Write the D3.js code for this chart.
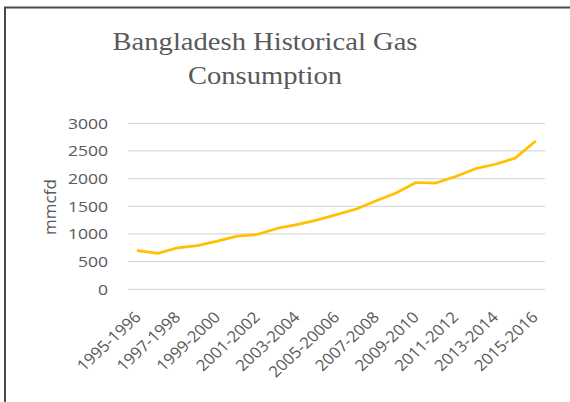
<!DOCTYPE html>
<html>
<head>
<meta charset="utf-8">
<script src="https://cdn.jsdelivr.net/npm/d3@7"></script>
<style>
    body { margin: 0; background: #fff; }
    svg { display: block; }
</style>
</head>
<body>
<svg id="chart" width="570" height="402"></svg>
<script>
// data
let categories = ["1995-1996", "1996-1997", "1997-1998", "1998-1999", "1999-2000", "2000-2001",
    "2001-2002", "2002-2003", "2003-2004", "2004-2005", "2005-20006", "2006-2007", "2007-2008",
    "2008-2009", "2009-2010", "2010-2011", "2011-2012", "2012-2013", "2013-2014", "2014-2015",
    "2015-2016"];
let consumption = [700, 650, 750, 790, 870, 960, 990, 1100, 1170, 1250, 1350, 1450, 1600,
    1740, 1930, 1920, 2040, 2180, 2260, 2370, 2670];
let yTicks = [0, 500, 1000, 1500, 2000, 2500, 3000];
let titleLines = ["Bangladesh Historical Gas", "Consumption"];
let yLabel = "mmcfd";

// the picture looks a bit wider than tall, text gets stretched sideways
let stretch = 1.17;

let svg = d3.select("#chart");

// chart border (cropped on right and bottom)
svg.append("path")
    .attr("d", "M5,402V7.5H570")
    .attr("fill", "none")
    .attr("stroke", "#4a4a4a")
    .attr("stroke-width", 2);

let x = d3.scaleBand().domain(categories).range([128, 545]);
let y = d3.scaleLinear().domain([0, 3000]).range([289.3, 123.3]);

// gridlines
svg.append("g")
    .selectAll("line")
    .data(yTicks)
    .enter().append("line")
    .attr("x1", 128)
    .attr("x2", 545)
    .attr("y1", function(d) { return y(d); })
    .attr("y2", function(d) { return y(d); })
    .attr("stroke", "#d9d9d9")
    .attr("stroke-width", 1.3);

// y axis labels
let yAxis = d3.axisLeft(y).tickValues(yTicks).tickFormat(d3.format("d")).tickSize(0).tickPadding(0);
let gy = svg.append("g")
    .attr("transform", "translate(108,0)")
    .call(yAxis);
gy.select(".domain").remove();
gy.selectAll("text")
    .attr("fill", "#595959")
    .attr("transform", "scale(" + stretch + ",1)")
    .style("font-family", "'Open Sans', sans-serif")
    .style("font-size", "15px");

// x axis labels, every other category
let xAxis = d3.axisBottom(x)
    .tickValues(categories.filter(function(d, i) { return i % 2 == 0; }))
    .tickSize(0);
let gx = svg.append("g")
    .attr("transform", "translate(0,289.3)")
    .call(xAxis);
gx.select(".domain").remove();
gx.selectAll("text")
    .attr("fill", "#595959")
    .style("font-family", "'Open Sans', sans-serif")
    .style("font-size", "15.5px")
    .style("text-anchor", "end")
    .attr("dy", "0")
    .attr("y", 0)
    .attr("transform", "translate(4,29) scale(1.08,1) rotate(-45)");

// the line
let line = d3.line()
    .x(function(d, i) { return x(categories[i]) + x.bandwidth() / 2; })
    .y(function(d) { return y(d); });

svg.append("path")
    .datum(consumption)
    .attr("d", line)
    .attr("fill", "none")
    .attr("stroke", "#ffc000")
    .attr("stroke-width", 2.7)
    .attr("stroke-linejoin", "round")
    .attr("stroke-linecap", "round");

// y title
svg.append("text")
    .attr("transform", "translate(56,207) rotate(-90)")
    .attr("text-anchor", "middle")
    .attr("fill", "#595959")
    .style("font-family", "'Open Sans', sans-serif")
    .style("font-size", "17px")
    .text(yLabel);

// chart title
svg.append("g")
    .selectAll("text")
    .data(titleLines)
    .enter().append("text")
    .attr("transform", function(d, i) {
        return "translate(265," + (50 + i * 34) + ") scale(1.1,1)";
    })
    .attr("text-anchor", "middle")
    .attr("fill", "#595959")
    .style("font-family", "'Liberation Serif', serif")
    .style("font-size", "26px")
    .text(function(d) { return d; });
</script>
</body>
</html>
